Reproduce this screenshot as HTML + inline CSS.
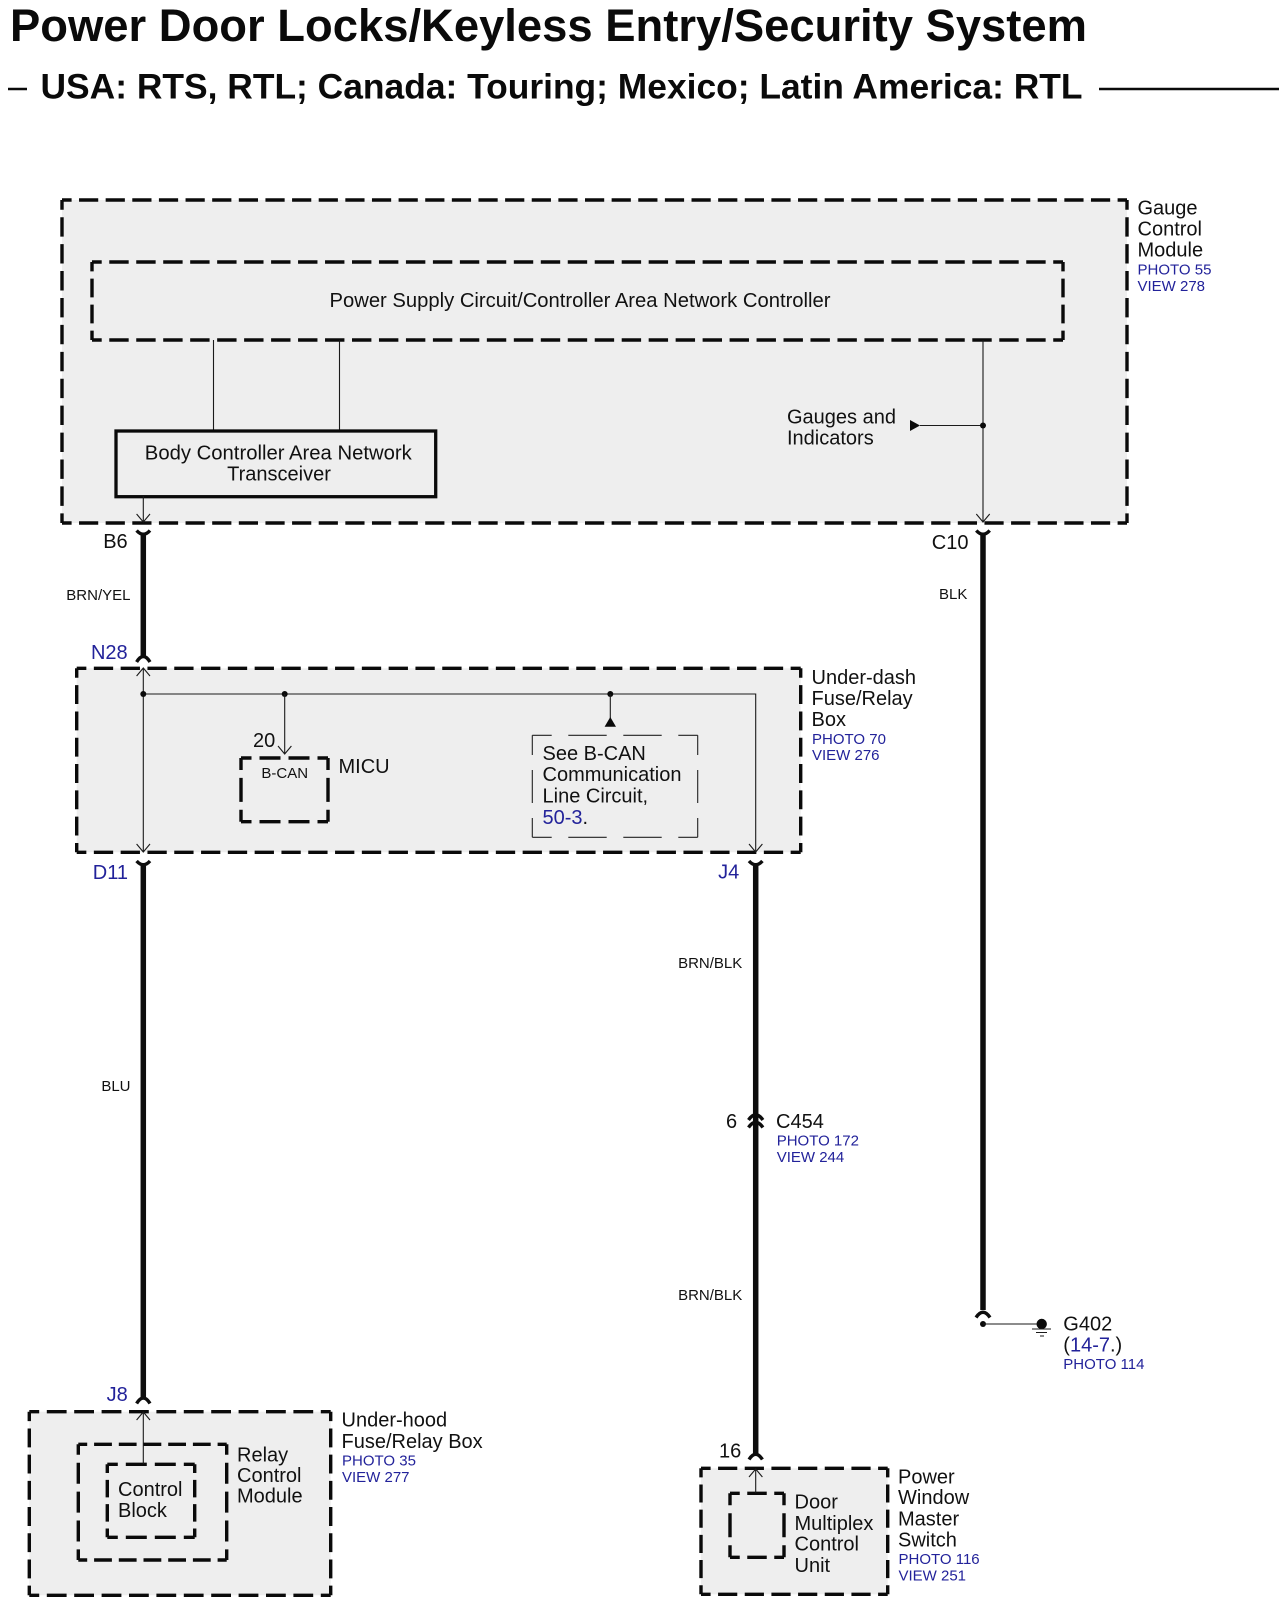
<!DOCTYPE html>
<html>
<head>
<meta charset="utf-8">
<title>Power Door Locks/Keyless Entry/Security System</title>
<style>
html,body{margin:0;padding:0;background:#fff}
svg{display:block}
text{font-family:"Liberation Sans",Arial,sans-serif;font-size:20px;fill:#111}
.s{font-size:15px}
.b{fill:#22229a}
.t{font-weight:bold;fill:#0a0a0a}
.d{fill:none;stroke:#0a0a0a;stroke-width:3.4}
.f{fill:#eeeeee;stroke:none}
.w{fill:none;stroke:#0d0d0d;stroke-width:5.5}
.c{fill:none;stroke:#0d0d0d;stroke-width:3.4}
.l{fill:none;stroke:#1a1a1a;stroke-width:1.1}
.n{fill:none;stroke:#222;stroke-width:1.1}
</style>
</head>
<body>
<svg xmlns="http://www.w3.org/2000/svg" width="1286" height="1606" viewBox="0 0 1286 1606">
<rect width="1286" height="1606" fill="#fff"/>

<!-- Title -->
<text x="10" y="41" class="t" style="font-size:45px" textLength="1077" lengthAdjust="spacingAndGlyphs">Power Door Locks/Keyless Entry/Security System</text>
<text x="40.5" y="98.5" class="t" style="font-size:35.5px" textLength="1042" lengthAdjust="spacingAndGlyphs">USA: RTS, RTL; Canada: Touring; Mexico; Latin America: RTL</text>
<path d="M8 89H27M1099 89H1279" stroke="#0a0a0a" stroke-width="2.5" fill="none"/>

<!-- Gauge Control Module -->
<rect class="f" x="62" y="200" width="1065" height="323"/>
<path class="d" d="M62 200H1127M62 523H1127" stroke-dasharray="19.2 7.43" stroke-dashoffset="9.6"/>
<path class="d" d="M62 200V523M1127 200V523" stroke-dasharray="19.4 7.52" stroke-dashoffset="9.7"/>
<path class="d" d="M92 262H1063M92 340H1063" stroke-dasharray="19.4 7.57" stroke-dashoffset="9.7"/>
<path class="d" d="M92 262V340M1063 262V340" stroke-dasharray="18.7 7.3" stroke-dashoffset="9.35"/>
<text x="580" y="307" text-anchor="middle" textLength="501" lengthAdjust="spacingAndGlyphs">Power Supply Circuit/Controller Area Network Controller</text>
<path class="l" d="M213.5 340V431M339.5 340V431M983 340V522"/>
<rect x="116" y="431" width="319.7" height="65.7" fill="none" stroke="#0a0a0a" stroke-width="3.3"/>
<text x="278.3" y="459.5" text-anchor="middle" textLength="267" lengthAdjust="spacingAndGlyphs">Body Controller Area Network</text>
<text x="279" y="480.5" text-anchor="middle">Transceiver</text>
<text x="787" y="423.5">Gauges and</text>
<text x="787" y="444.5">Indicators</text>
<path d="M910 420L920 425.5L910 431Z" fill="#0a0a0a"/>
<path class="l" d="M920 425.5H983"/>
<circle cx="983" cy="425.5" r="3" fill="#0a0a0a"/>
<path class="l" d="M143.3 496V522M136.6 514L143.3 522L150 514M976.3 514L983 522L989.7 514"/>
<text x="1137.5" y="214.5">Gauge</text>
<text x="1137.5" y="235.5">Control</text>
<text x="1137.5" y="256.5">Module</text>
<text x="1137.5" y="274.5" class="s b">PHOTO 55</text>
<text x="1137.5" y="291" class="s b">VIEW 278</text>

<!-- Wire B6 to N28 -->
<path class="w" d="M143.3 533V656"/>
<path class="c" d="M136.6 530.5Q143.3 538 150 530.5"/>
<path class="c" d="M136.6 662Q143.3 651 150 662"/>
<text x="127.7" y="548" text-anchor="end">B6</text>
<text x="130.5" y="600" text-anchor="end" class="s">BRN/YEL</text>
<text x="127.7" y="659" text-anchor="end" class="b">N28</text>

<!-- Wire C10 to G402 -->
<path class="w" d="M983 533V1310"/>
<path class="c" d="M976.3 530.5Q983 538 989.7 530.5"/>
<path class="c" d="M976 1317.5Q983 1307 990 1317.5"/>
<text x="968.5" y="549" text-anchor="end">C10</text>
<text x="939" y="599" class="s">BLK</text>
<circle cx="983" cy="1324" r="3" fill="#0a0a0a"/>
<path class="l" d="M983 1324H1041.7"/>
<circle cx="1041.7" cy="1324" r="5.2" fill="#0a0a0a"/>
<path class="l" d="M1032 1329H1051M1036 1332.5H1047M1040 1336H1044"/>
<text x="1063.3" y="1330.7">G402</text>
<text x="1063.3" y="1351.7">(<tspan class="b">14-7</tspan>.)</text>
<text x="1063.3" y="1369" class="s b">PHOTO 114</text>

<!-- Under-dash Fuse/Relay Box -->
<rect class="f" x="76.7" y="668.3" width="724" height="184"/>
<path class="d" d="M76.7 668.3H800.7M76.7 852.3H800.7" stroke-dasharray="19.3 7.5" stroke-dashoffset="9.65"/>
<path class="d" d="M76.7 668.3V852.3M800.7 668.3V852.3" stroke-dasharray="18.9 7.4" stroke-dashoffset="9.45"/>
<path class="l" d="M143.3 668V852M136.6 676L143.3 668L150 676M136.6 844L143.3 852L150 844"/>
<path class="l" d="M143.3 694H755.7V852M749 844L755.7 852L762.4 844"/>
<circle cx="143.3" cy="694" r="3" fill="#0a0a0a"/>
<circle cx="284.7" cy="694" r="3" fill="#0a0a0a"/>
<circle cx="610.3" cy="694" r="3" fill="#0a0a0a"/>
<path class="l" d="M284.7 694V754M278 746L284.7 754L291.4 746"/>
<path class="l" d="M610.3 694V718"/>
<path d="M610.3 717L616 726.7H604.6Z" fill="#0a0a0a"/>
<path class="d" d="M241 758H328M241 821.7H328" stroke-dasharray="21 8" stroke-dashoffset="10.5"/>
<path class="d" d="M241 758V821.7M328 758V821.7" stroke-dasharray="24 7.85" stroke-dashoffset="12"/>
<text x="253" y="747">20</text>
<text x="338.5" y="773">MICU</text>
<text x="284.7" y="778" text-anchor="middle" class="s">B-CAN</text>
<path class="n" d="M532.3 735.3H551.7M568.3 735.3H606.7M623.3 735.3H661.7M678.3 735.3H697.7M532.3 837.3H551.7M568.3 837.3H606.7M623.3 837.3H661.7M678.3 837.3H697.7M532.3 735.3V755M532.3 770V803M532.3 818V837.3M697.7 735.3V755M697.7 770V803M697.7 818V837.3"/>
<text x="542.5" y="760">See B-CAN</text>
<text x="542.5" y="781">Communication</text>
<text x="542.5" y="802.7">Line Circuit,</text>
<text x="542.5" y="824"><tspan class="b">50-3</tspan>.</text>
<text x="811.5" y="684">Under-dash</text>
<text x="811.5" y="705">Fuse/Relay</text>
<text x="811.5" y="726">Box</text>
<text x="812" y="744" class="s b">PHOTO 70</text>
<text x="812" y="760" class="s b">VIEW 276</text>

<!-- Wire D11 to J8 -->
<path class="w" d="M143.3 864V1398"/>
<path class="c" d="M136.6 861Q143.3 868.5 150 861"/>
<path class="c" d="M136.6 1403.5Q143.3 1392.5 150 1403.5"/>
<text x="128" y="879" text-anchor="end" class="b">D11</text>
<text x="130.5" y="1091" text-anchor="end" class="s">BLU</text>
<text x="127.7" y="1401" text-anchor="end" class="b">J8</text>

<!-- Wire J4 to 16 -->
<path class="w" d="M755.7 864V1455"/>
<path class="c" d="M749 861Q755.7 868.5 762.4 861"/>
<text x="739.3" y="878.7" text-anchor="end" class="b">J4</text>
<text x="742.3" y="968" text-anchor="end" class="s">BRN/BLK</text>
<path class="c" d="M748.5 1120Q755.7 1109.5 762.9 1120"/>
<path class="c" d="M748.5 1127.5Q755.7 1117 762.9 1127.5"/>
<text x="726" y="1128">6</text>
<text x="776" y="1128">C454</text>
<text x="776.7" y="1145.7" class="s b">PHOTO 172</text>
<text x="776.7" y="1162" class="s b">VIEW 244</text>
<text x="742.3" y="1300" text-anchor="end" class="s">BRN/BLK</text>
<path class="c" d="M749 1459.5Q755.7 1449 762.4 1459.5"/>
<text x="719" y="1457.3">16</text>

<!-- Under-hood Fuse/Relay Box -->
<rect class="f" x="29.3" y="1411.7" width="301.4" height="183.6"/>
<path class="d" d="M29.3 1411.7H330.7M29.3 1595.3H330.7" stroke-dasharray="19.8 7.6" stroke-dashoffset="9.9"/>
<path class="d" d="M29.3 1411.7V1595.3M330.7 1411.7V1595.3" stroke-dasharray="18.9 7.3" stroke-dashoffset="9.45"/>
<path class="d" d="M78.3 1444.3H226.7M78.3 1560H226.7" stroke-dasharray="17.8 6.9" stroke-dashoffset="8.9"/>
<path class="d" d="M78.3 1444.3V1560M226.7 1444.3V1560" stroke-dasharray="21 7.9" stroke-dashoffset="10.5"/>
<path class="d" d="M107.3 1464.3H194.7M107.3 1537.3H194.7" stroke-dasharray="21 8" stroke-dashoffset="10.5"/>
<path class="d" d="M107.3 1464.3V1537.3M194.7 1464.3V1537.3" stroke-dasharray="17.5 6.8" stroke-dashoffset="8.75"/>
<path class="l" d="M143.3 1464V1412M136.6 1420L143.3 1412L150 1420"/>
<text x="118" y="1496">Control</text>
<text x="118" y="1517">Block</text>
<text x="237" y="1461.7">Relay</text>
<text x="237" y="1482">Control</text>
<text x="237" y="1502.7">Module</text>
<text x="341.5" y="1426.5">Under-hood</text>
<text x="341.5" y="1448">Fuse/Relay Box</text>
<text x="342" y="1465.3" class="s b">PHOTO 35</text>
<text x="342" y="1482" class="s b">VIEW 277</text>

<!-- Power Window Master Switch -->
<rect class="f" x="701" y="1468.3" width="186.7" height="126"/>
<path class="d" d="M701 1468.3H887.7M701 1594.3H887.7" stroke-dasharray="19.2 7.47" stroke-dashoffset="9.6"/>
<path class="d" d="M701 1468.3V1594.3M887.7 1468.3V1594.3" stroke-dasharray="18.1 7.1" stroke-dashoffset="9.05"/>
<path class="d" d="M730 1493.3H784M730 1557.3H784" stroke-dasharray="19.5 7.5" stroke-dashoffset="9.75"/>
<path class="d" d="M730 1493.3V1557.3M784 1493.3V1557.3" stroke-dasharray="24 8" stroke-dashoffset="12"/>
<path class="l" d="M755.7 1493V1469M749 1477L755.7 1469L762.4 1477"/>
<text x="794.5" y="1508.7">Door</text>
<text x="794.5" y="1530">Multiplex</text>
<text x="794.5" y="1550.7">Control</text>
<text x="794.5" y="1572">Unit</text>
<text x="898" y="1483.3">Power</text>
<text x="898" y="1504">Window</text>
<text x="898" y="1525.3">Master</text>
<text x="898" y="1546.7">Switch</text>
<text x="898.5" y="1564" class="s b">PHOTO 116</text>
<text x="898.5" y="1580.7" class="s b">VIEW 251</text>
</svg>
</body>
</html>
